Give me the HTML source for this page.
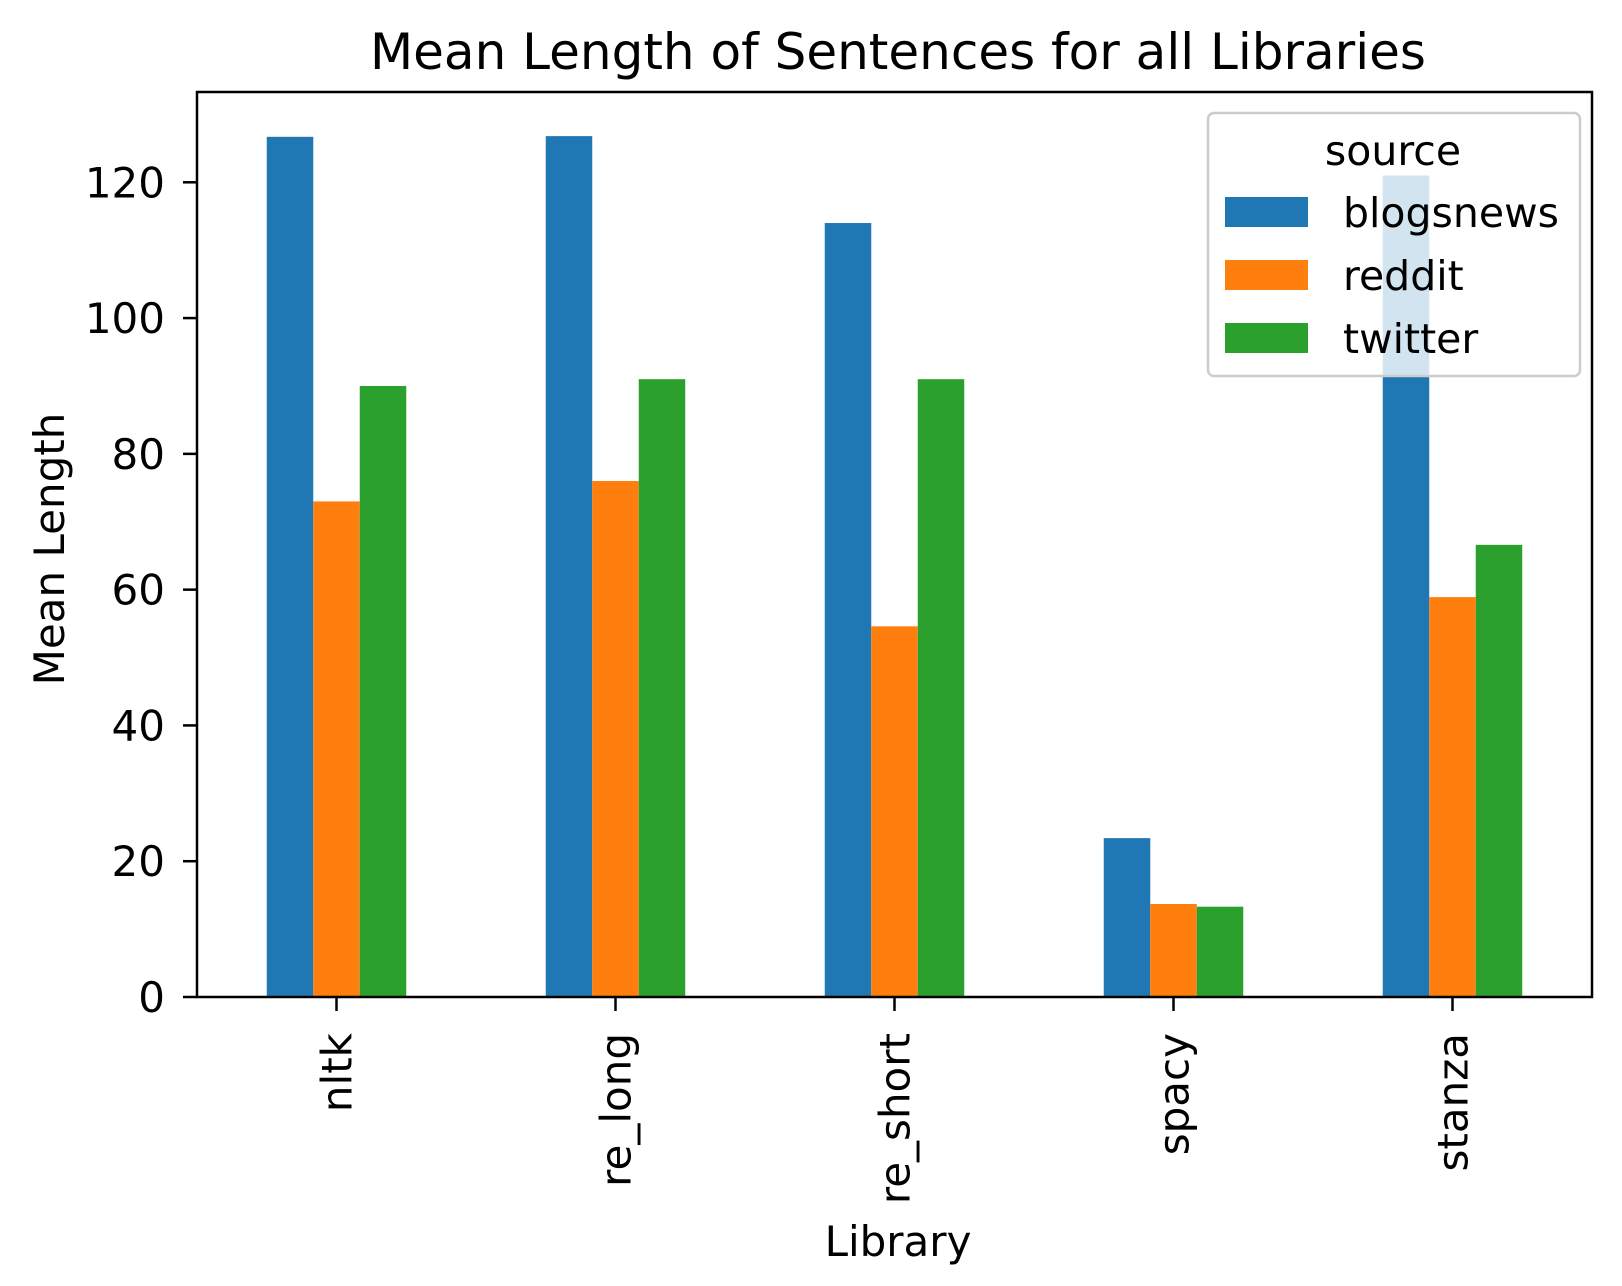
<!DOCTYPE html>
<html><head><meta charset="utf-8"><style>
body{margin:0;background:#fff}
svg{display:block;font-family:"DejaVu Sans","Liberation Sans",sans-serif}
</style></head><body>
<svg id="chart" width="1622" height="1286" viewBox="0 0 1622 1286" xmlns="http://www.w3.org/2000/svg">
<rect width="1622" height="1286" fill="#fff"/>
<text x="898" y="69" font-size="50" text-anchor="middle">Mean Length of Sentences for all Libraries</text>
<g id="bars"></g>
<g id="yticks"></g>
<g id="xticks"></g>
<rect x="197" y="92" width="1395" height="905" fill="none" stroke="#000" stroke-width="2.5"/>
<text transform="translate(64,549) rotate(-90)" font-size="42" text-anchor="middle">Mean Length</text>
<text x="898" y="1256" font-size="42" text-anchor="middle">Library</text>
<g>
<rect x="1208" y="113" width="372" height="263" rx="6" fill="#fff" fill-opacity="0.8" stroke="#ccc" stroke-width="2.5"/>
<text x="1393" y="165" font-size="41" text-anchor="middle">source</text>
<g id="legend-items"></g>
</g>
</svg>
<script>
const categories = ["nltk","re_long","re_short","spacy","stanza"];
const seriesNames = ["blogsnews","reddit","twitter"];
const blogsnews = [126.7,126.8,114.0,23.4,121.0];
const reddit = [73.0,76.0,54.6,13.7,58.9];
const twitter = [90.0,91.0,91.0,13.3,66.6];
const yTicks = [0,20,40,60,80,100,120];
const colors = ["#1f77b4","#ff7f0e","#2ca02c"];
const series = [blogsnews, reddit, twitter];
const NS = "http://www.w3.org/2000/svg";
const L=197,R=1592,T=92,B=997, yMax=133.3;
const y = v => B - v*(B-T)/yMax;
const step = (R-L)/categories.length;
const xc = i => L + step*(i+0.5);
const bw = step*0.5/3;
function mk(tag, attrs){const e=document.createElementNS(NS,tag);for(const k in attrs)e.setAttribute(k,attrs[k]);return e;}
const bars=document.getElementById('bars');
series.forEach((s,si)=>s.forEach((v,i)=>{
  const r=mk('rect',{x:xc(i)-1.5*bw+si*bw,y:y(v),width:bw,height:B-y(v),fill:colors[si]});
  
  
  bars.appendChild(r);
}));
const yt=document.getElementById('yticks');
yTicks.forEach(t=>{
  const l=mk('line',{x1:L-14,x2:L,y1:y(t),y2:y(t),stroke:'#000','stroke-width':2.5});
  
  
  yt.appendChild(l);
  const tx=mk('text',{x:L-32,y:y(t)+15,'font-size':42,'text-anchor':'end'});
  tx.textContent=t;
  
  
  yt.appendChild(tx);
});
const xt=document.getElementById('xticks');
categories.forEach((c,i)=>{
  const l=mk('line',{x1:xc(i),x2:xc(i),y1:B,y2:B+14,stroke:'#000','stroke-width':2.5});
  
  
  xt.appendChild(l);
  const tx=mk('text',{transform:`translate(${xc(i)+15},${B+36}) rotate(-90)`,'font-size':42,'text-anchor':'end'});
  tx.textContent=c;
  
  
  xt.appendChild(tx);
});
const li=document.getElementById('legend-items');
seriesNames.forEach((n,i)=>{
  const cy=212+i*63;
  const r=mk('rect',{x:1225,y:cy-15,width:83,height:30,fill:colors[i]});
  
  
  li.appendChild(r);
  const t=mk('text',{x:1343,y:cy+15,'font-size':41});
  t.textContent=n;
  
  
  li.appendChild(t);
});
</script>
</body></html>
